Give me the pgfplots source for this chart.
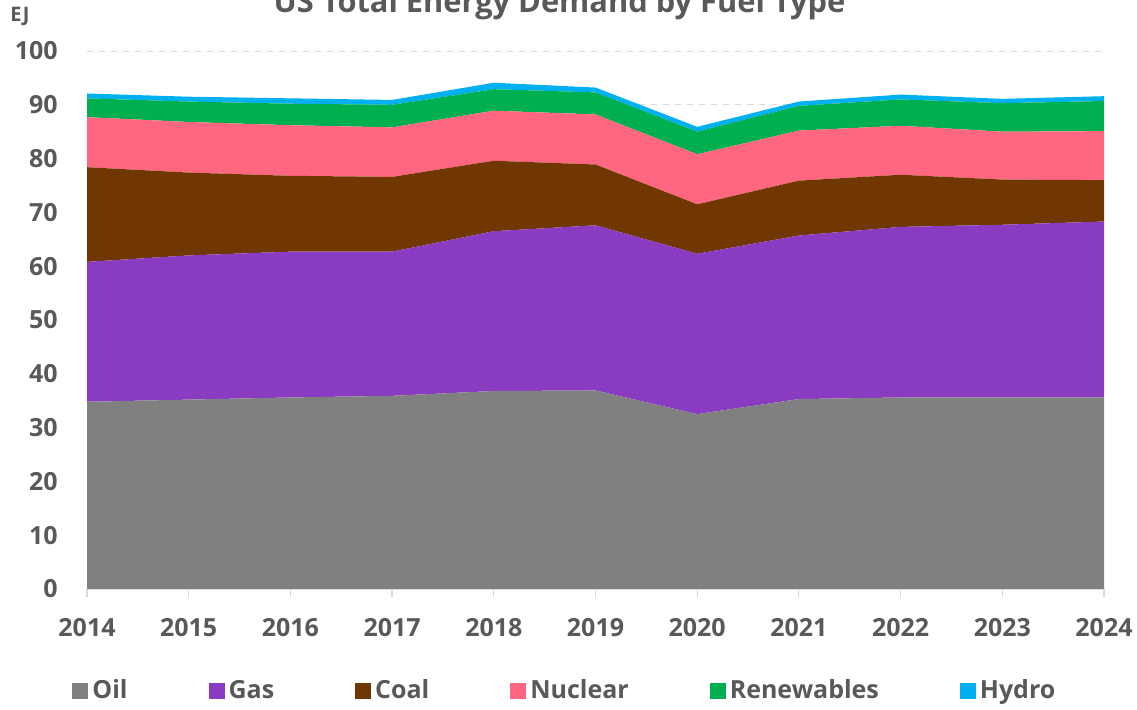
\documentclass[border=0pt]{standalone}
\usepackage{pgfplots}
\pgfplotsset{compat=1.18}
\usepackage{pgfplotstable}
\usepackage{fontspec}
\setmainfont{Open Sans}
\definecolor{oil}{RGB}{128,128,128}
\definecolor{gas}{RGB}{137,59,194}
\definecolor{coal}{RGB}{112,56,0}
\definecolor{nuc}{RGB}{255,102,128}
\definecolor{ren}{RGB}{0,176,80}
\definecolor{hyd}{RGB}{0,176,240}
\definecolor{txt}{RGB}{89,89,89}
\definecolor{axl}{RGB}{217,217,217}

\pgfplotstableread{
year oil gas coal nuclear renew hydro
2014 34.8 26.0 17.6 9.3 3.5 0.9
2015 35.2 26.8 15.4 9.4 3.8 0.9
2016 35.6 27.1 14.1 9.4 4.0 1.0
2017 35.9 26.8 13.9 9.2 4.2 0.9
2018 36.8 29.7 13.1 9.3 4.0 1.2
2019 36.9 30.7 11.3 9.3 4.1 0.9
2020 32.5 29.8 9.2 9.3 4.2 0.9
2021 35.3 30.4 10.2 9.3 4.6 0.8
2022 35.6 31.7 9.7 9.1 4.9 0.9
2023 35.6 32.1 8.4 8.9 5.3 0.8
2024 35.6 32.7 7.7 9.1 5.6 0.9
}\data

\begin{document}
\begin{tikzpicture}
\begin{axis}[
  at={(43.5pt,60.5pt)}, anchor=south west,
  scale only axis, width=508.5pt, height=269pt,
  xmin=2014, xmax=2024, ymin=0, ymax=100,
  xtick={2014,2015,...,2024}, ytick={0,10,...,100},
  stack plots=y, area style, axis on top=false,
  set layers,
  axis lines*=left,
  x axis line style={draw=axl, line width=0.6pt, -},
  y axis line style={draw=none},
  xtick style={draw=axl, line width=0.6pt},
  ytick style={draw=none},
  major tick length=4pt, tick align=outside,
  ymajorgrids, grid style={dashed, black!15},
  /pgf/number format/assume math mode=true,
  /pgf/number format/set thousands separator={},
  ticklabel style={font=\bfseries\fontsize{12.5}{15}\selectfont, text=txt},
  yticklabel style={anchor=east, inner sep=0pt, xshift=-10.5pt},
  xticklabel style={anchor=north, inner sep=0pt, yshift=-10.5pt},
  legend columns=6,
  legend style={draw=none, fill=none, at={(axis description cs:0,0)}, anchor=west,
    xshift=-7.5pt, yshift=-51pt, inner sep=0pt,
    font=\bfseries\fontsize{12.5}{15}\selectfont, text=txt,
    /tikz/every even column/.append style={column sep=38.5pt}},
  legend image code/.code={\fill[#1] (0pt,-4pt) rectangle (8pt,4pt);},
]
\addplot[fill=oil, draw=none] table[x=year,y=oil]{\data} \closedcycle;
\addlegendentry{Oil}
\addplot[fill=gas, draw=none] table[x=year,y=gas]{\data} \closedcycle;
\addlegendentry{Gas}
\addplot[fill=coal, draw=none] table[x=year,y=coal]{\data} \closedcycle;
\addlegendentry{Coal}
\addplot[fill=nuc, draw=none] table[x=year,y=nuclear]{\data} \closedcycle;
\addlegendentry{Nuclear}
\addplot[fill=ren, draw=none] table[x=year,y=renew]{\data} \closedcycle;
\addlegendentry{Renewables}
\addplot[fill=hyd, draw=none] table[x=year,y=hydro]{\data} \closedcycle;
\addlegendentry{Hydro}
\end{axis}
\node[font=\bfseries\fontsize{15.4}{18}\selectfont, text=txt, anchor=base] at (279.75pt,348.5pt) {US Total Energy Demand by Fuel Type};
\node[font=\bfseries\fontsize{10}{12}\selectfont, text=txt] at (10pt,347pt) {EJ};
\pgfresetboundingbox
\path[use as bounding box] (0,0) rectangle (568.5pt,355pt);
\end{tikzpicture}
\end{document}
